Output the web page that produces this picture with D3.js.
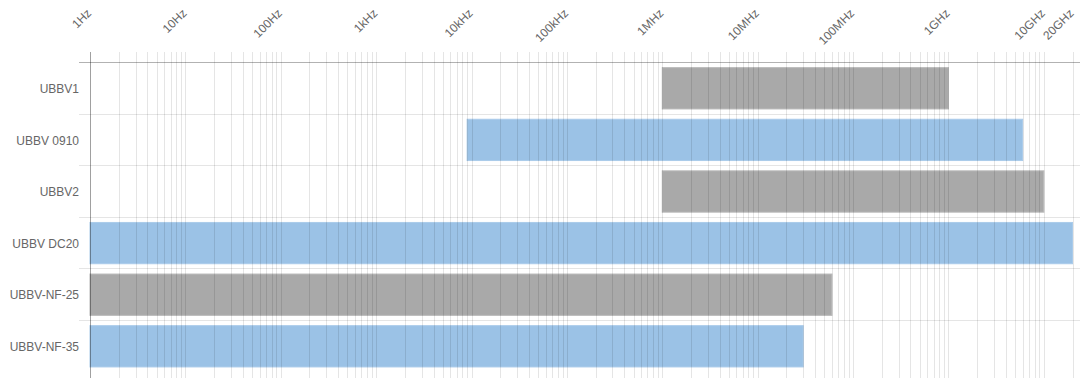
<!DOCTYPE html>
<html>
<head>
<meta charset="utf-8">
<script src="https://cdn.jsdelivr.net/npm/d3@7"></script>
<style>
  html, body { margin: 0; padding: 0; background: #fff; }
  svg { display: block; }
</style>
</head>
<body>
<svg id="drawing_region"></svg>
<script>
// data
const products = ["UBBV1", "UBBV 0910", "UBBV2", "UBBV DC20", "UBBV-NF-25", "UBBV-NF-35"];
const freqLow  = [1e6, 9e3, 1e6, 1, 1, 1];
const freqHigh = [1e9, 6e9, 1e10, 2e10, 6e7, 3e7];
const barColors = ["gray", "blue", "gray", "blue", "gray", "blue"];
const tickValues = [1, 10, 100, 1e3, 1e4, 1e5, 1e6, 1e7, 1e8, 1e9, 1e10, 2e10];
const tickLabels = ["1Hz", "10Hz", "100Hz", "1kHz", "10kHz", "100kHz", "1MHz", "10MHz", "100MHz", "1GHz", "10GHz", "20GHz"];

const config = {
    width: 1080,
    height: 378,
    left: 90,
    right: 1072.5,
    top: 62,
    band: 51.6
};

const fills = {
    blue: { fill: "#9bc2e6", stroke: "#aacbea" },
    gray: { fill: "#a9a9a9", stroke: "#b8b8b8" }
};

const svg = d3.select("#drawing_region")
    .attr("width", config.width)
    .attr("height", config.height)
    .style("font-family", "'Liberation Sans', Arial, sans-serif");

const xscale = d3.scaleLog()
    .domain([1, 2e10])
    .range([config.left, config.right]);

const yscale = d3.scaleBand()
    .domain(products)
    .range([config.top, config.top + config.band * products.length])
    .paddingInner(0.2)
    .paddingOuter(0.1);

// gridline positions: 1..9 per decade, then 20GHz
let gridValues = [];
for (let e = 0; e <= 10; e++) {
    for (let m = 1; m <= 9; m++) {
        const v = m * Math.pow(10, e);
        if (v <= 2e10) gridValues.push(v);
    }
}

// bars
svg.append("g").selectAll("rect")
    .data(products)
    .join("rect")
    .attr("x", (d, i) => xscale(freqLow[i]))
    .attr("y", d => yscale(d) + 0.5)
    .attr("width", (d, i) => xscale(freqHigh[i]) - xscale(freqLow[i]))
    .attr("height", yscale.bandwidth())
    .attr("fill", (d, i) => fills[barColors[i]].fill)
    .attr("stroke", (d, i) => fills[barColors[i]].stroke)
    .attr("stroke-width", 1);

// vertical grid (with tick marks above the axis)
svg.append("g").selectAll("line")
    .data(gridValues)
    .join("line")
    .attr("x1", d => Math.round(xscale(d)) + 0.5)
    .attr("x2", d => Math.round(xscale(d)) + 0.5)
    .attr("y1", config.top - 10)
    .attr("y2", config.height)
    .attr("stroke", "rgba(0,0,0,0.1)");

// horizontal grid between categories
const bounds = d3.range(products.length).map(i => config.top + i * config.band);
svg.append("g").selectAll("line")
    .data(bounds.slice(1))
    .join("line")
    .attr("x1", config.left - 11)
    .attr("x2", config.width)
    .attr("y1", d => Math.round(d) + 0.5)
    .attr("y2", d => Math.round(d) + 0.5)
    .attr("stroke", "rgba(0,0,0,0.1)");

// axis lines
svg.append("line")
    .attr("x1", config.left - 11).attr("x2", config.width)
    .attr("y1", config.top + 0.5).attr("y2", config.top + 0.5)
    .attr("stroke", "rgba(0,0,0,0.3)");
svg.append("line")
    .attr("x1", config.left + 0.5).attr("x2", config.left + 0.5)
    .attr("y1", config.top - 10).attr("y2", config.height)
    .attr("stroke", "rgba(0,0,0,0.3)");

// x tick labels, rotated
svg.append("g").selectAll("text")
    .data(tickValues)
    .join("text")
    .attr("transform", d => `translate(${xscale(d) + 2}, 14) rotate(-45)`)
    .attr("text-anchor", "end")
    .attr("font-size", "12px")
    .attr("fill", "#666")
    .text((d, i) => tickLabels[i]);

// y labels
svg.append("g").selectAll("text")
    .data(products)
    .join("text")
    .attr("x", config.left - 11)
    .attr("y", d => yscale(d) + yscale.bandwidth() / 2 + 1)
    .attr("dy", "0.35em")
    .attr("text-anchor", "end")
    .attr("font-size", "12px")
    .attr("fill", "#666")
    .text(d => d);
</script>
</body>
</html>
